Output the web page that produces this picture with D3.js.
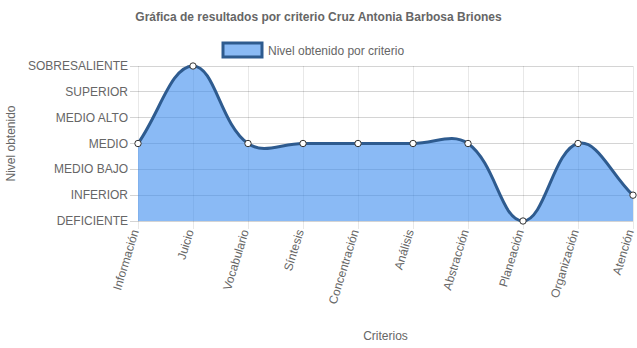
<!DOCTYPE html>
<html><head><meta charset="utf-8">
<script src="https://cdn.jsdelivr.net/npm/d3@7/dist/d3.min.js"></script>
<style>body{margin:0;background:#fff}svg{display:block;font-family:"Liberation Sans",Arial,sans-serif}</style>
</head><body>
<svg id="c" width="637" height="348"></svg>
<script>
const categories = ["Información","Juicio","Vocabulario","Síntesis","Concentración","Análisis","Abstracción","Planeación","Organización","Atención"];
const values = [3,6,3,3,3,3,3,0,3,1];
const levelLabels = ["DEFICIENTE","INFERIOR","MEDIO BAJO","MEDIO","MEDIO ALTO","SUPERIOR","SOBRESALIENTE"];
const titleText = "Gráfica de resultados por criterio Cruz Antonia Barbosa Briones";
const seriesName = "Nivel obtenido por criterio";
const yTitle = "Nivel obtenido";
const xTitle = "Criterios";

const svg = d3.select("#c");
const L = 138, R = 633, T = 66, B = 221;
const x = d3.scalePoint().domain(categories).range([L, R]);
const y = d3.scaleLinear().domain([0, 6]).range([B, T]);
const grey = "#666";
const lineColor = "#2e5b8f";
const fillColor = "rgba(60,140,238,0.6)";

// title
svg.append("text").attr("x", 318.5).attr("y", 21).attr("text-anchor", "middle")
  .attr("font-size", 12).attr("font-weight", "bold").attr("fill", grey).text(titleText);

// legend
svg.append("rect").attr("x", 223).attr("y", 43).attr("width", 39).attr("height", 14)
  .attr("fill", fillColor).attr("stroke", lineColor).attr("stroke-width", 3);
svg.append("text").attr("x", 268).attr("y", 54.5).attr("font-size", 12).attr("fill", grey).text(seriesName);

// grid
const g = svg.append("g");
d3.range(7).forEach(v => {
  g.append("line").attr("x1", L - 8).attr("x2", R).attr("y1", y(v)).attr("y2", y(v))
    .attr("stroke", "rgba(0,0,0,0.17)").attr("stroke-width", 1).attr("shape-rendering", "crispEdges");
});
categories.forEach(c => {
  g.append("line").attr("x1", x(c)).attr("x2", x(c)).attr("y1", T).attr("y2", B + 8)
    .attr("stroke", "rgba(0,0,0,0.09)").attr("stroke-width", 1).attr("shape-rendering", "crispEdges");
});

// y labels
levelLabels.forEach((t, i) => {
  svg.append("text").attr("x", 128).attr("y", y(i) + 4).attr("text-anchor", "end")
    .attr("font-size", 12).attr("fill", grey).text(t);
});
// x labels
categories.forEach(c => {
  const px = x(c) + 1, py = B + 10;
  svg.append("text").attr("transform", `translate(${px},${py}) rotate(-73)`)
    .attr("text-anchor", "end").attr("font-size", 12).attr("fill", grey).text(c);
});
// axis titles
svg.append("text").attr("transform", `translate(15,${(T + B) / 2}) rotate(-90)`).attr("text-anchor", "middle")
  .attr("font-size", 12).attr("fill", grey).text(yTitle);
svg.append("text").attr("x", (L + R) / 2).attr("y", 340).attr("text-anchor", "middle")
  .attr("font-size", 12).attr("fill", grey).text(xTitle);

// Chart.js-style spline (tension 0.4, control points capped to chart area)
const pts = categories.map((c, i) => ({ x: x(c), y: y(values[i]) }));
const tension = 0.4;
pts.forEach((p, i) => {
  const prev = pts[Math.max(0, i - 1)], next = pts[Math.min(pts.length - 1, i + 1)];
  const d01 = Math.hypot(p.x - prev.x, p.y - prev.y);
  const d12 = Math.hypot(next.x - p.x, next.y - p.y);
  let s01 = d01 / (d01 + d12), s12 = d12 / (d01 + d12);
  if (!isFinite(s01)) s01 = 0; if (!isFinite(s12)) s12 = 0;
  const fa = tension * s01, fb = tension * s12;
  const cl = (v, a, b) => Math.max(a, Math.min(b, v));
  p.cpPx = cl(p.x - fa * (next.x - prev.x), L, R);
  p.cpPy = cl(p.y - fa * (next.y - prev.y), T, B);
  p.cpNx = cl(p.x + fb * (next.x - prev.x), L, R);
  p.cpNy = cl(p.y + fb * (next.y - prev.y), T, B);
});
function curvePath(close) {
  const p = d3.path();
  p.moveTo(pts[0].x, pts[0].y);
  for (let i = 1; i < pts.length; i++) {
    const a = pts[i - 1], b = pts[i];
    p.bezierCurveTo(a.cpNx, a.cpNy, b.cpPx, b.cpPy, b.x, b.y);
  }
  if (close) {
    p.lineTo(pts[pts.length - 1].x, y(0));
    p.lineTo(pts[0].x, y(0));
    p.closePath();
  }
  return p.toString();
}
svg.append("path").attr("d", curvePath(true)).attr("fill", fillColor);
svg.append("path").attr("d", curvePath(false)).attr("fill", "none").attr("stroke", lineColor).attr("stroke-width", 3);
svg.selectAll("circle.pt").data(pts).enter().append("circle")
  .attr("cx", d => d.x).attr("cy", d => d.y).attr("r", 3.2)
  .attr("fill", "#fff").attr("stroke", "#333").attr("stroke-width", 1);
</script>
</body></html>
